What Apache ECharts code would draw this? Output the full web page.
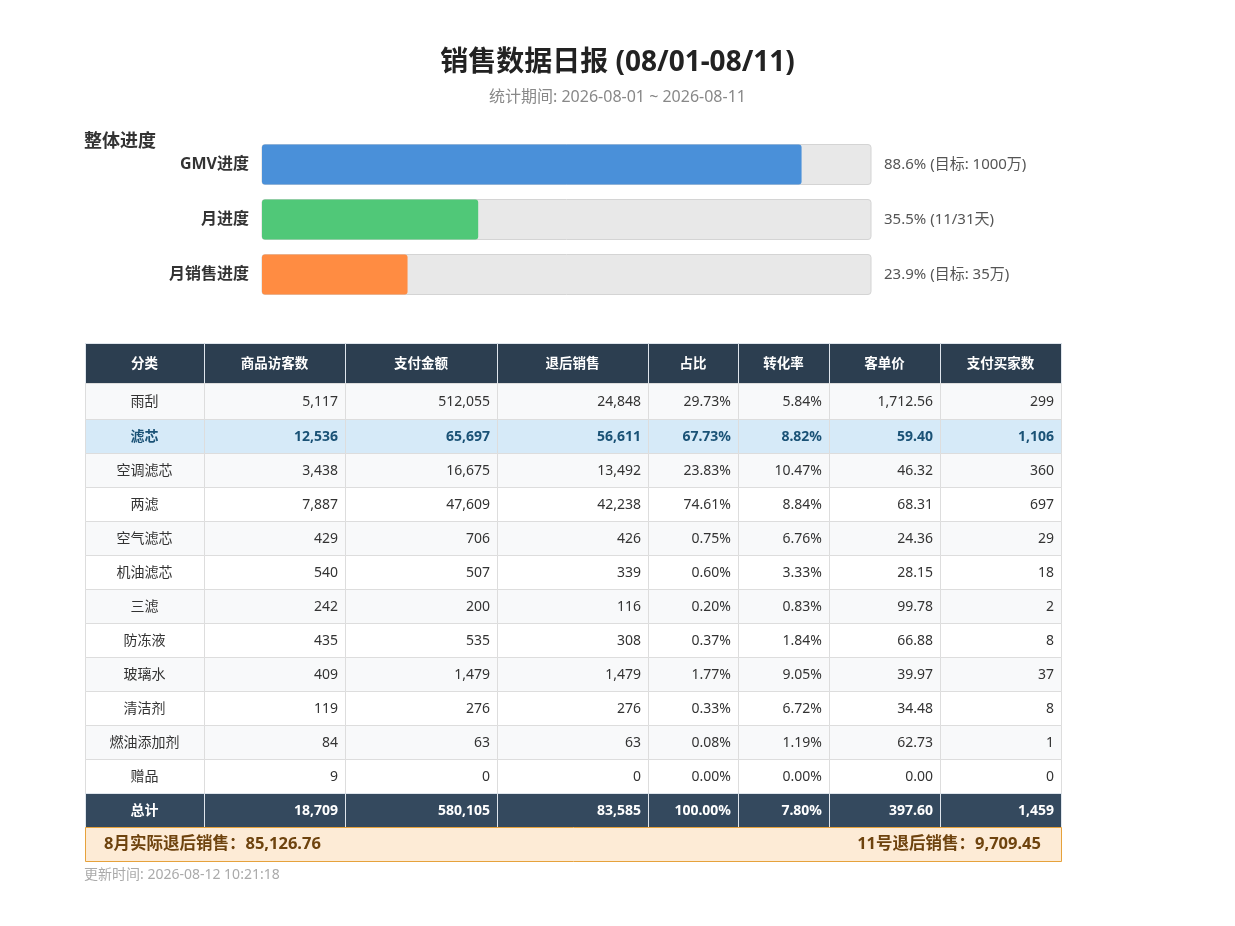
<!DOCTYPE html>
<html>
<head>
    <meta charset="UTF-8">
    <title>销售数据日报</title>
    <script src="https://cdn.jsdelivr.net/npm/echarts@6/dist/echarts.min.js"></script>
    <style>
        html, body { margin: 0; padding: 0; background: #ffffff; }
        #main { width: 1235px; height: 926px; }
    </style>
</head>
<body>
<div id="main"></div>
<script type="text/javascript">
    // ---- 进度数据 ----
    var progressNames = ['GMV进度', '月进度', '月销售进度'];
    var progressValues = [88.6, 35.5, 23.9];
    var progressNotes = ['88.6% (目标: 1000万)', '35.5% (11/31天)', '23.9% (目标: 35万)'];
    var progressColors = ['#4a90d9', '#50c878', '#ff8c42'];

    // ---- 表格数据 ----
    var headers = ['分类', '商品访客数', '支付金额', '退后销售', '占比', '转化率', '客单价', '支付买家数'];
    var categories = ['雨刮', '滤芯', '空调滤芯', '两滤', '空气滤芯', '机油滤芯', '三滤', '防冻液', '玻璃水', '清洁剂', '燃油添加剂', '赠品'];
    var visitors = [5117, 12536, 3438, 7887, 429, 540, 242, 435, 409, 119, 84, 9];
    var payAmount = [512055, 65697, 16675, 47609, 706, 507, 200, 535, 1479, 276, 63, 0];
    var netSales = [24848, 56611, 13492, 42238, 426, 339, 116, 308, 1479, 276, 63, 0];
    var shareRate = [29.73, 67.73, 23.83, 74.61, 0.75, 0.60, 0.20, 0.37, 1.77, 0.33, 0.08, 0.00];
    var convRate = [5.84, 8.82, 10.47, 8.84, 6.76, 3.33, 0.83, 1.84, 9.05, 6.72, 1.19, 0.00];
    var avgPrice = [1712.56, 59.40, 46.32, 68.31, 24.36, 28.15, 99.78, 66.88, 39.97, 34.48, 62.73, 0.00];
    var buyers = [299, 1106, 360, 697, 29, 18, 2, 8, 37, 8, 1, 0];
    var totalLabel = '总计';
    var totals = [18709, 580105, 83585, 100.00, 7.80, 397.60, 1459];
    var highlightRow = 1;
    var monthNetSales = 85126.76;
    var dayNetSales = 9709.45;
    var updateTime = '2026-08-12 10:21:18';

    // ---- 布局 (列宽 / 行高) ----
    var colEdges = [0, 119, 260, 412, 563, 653, 744, 855, 976];
    var rowEdges = [0, 40, 76, 110, 144, 178, 212, 246, 280, 314, 348, 382, 416, 450, 484, 518];
    var FONT = '"Noto Sans", "Noto Sans CJK SC", sans-serif';

    function fmtInt(v) { return v.toLocaleString('en-US'); }
    function fmtPct(v) { return v.toFixed(2) + '%'; }
    function fmtMoney(v) {
        return v.toLocaleString('en-US', {minimumFractionDigits: 2, maximumFractionDigits: 2});
    }
    var formatters = [null, fmtInt, fmtInt, fmtInt, fmtPct, fmtPct, fmtMoney, fmtInt];

    function bodyValue(i, c) {
        var cols = [categories, visitors, payAmount, netSales, shareRate, convRate, avgPrice, buyers];
        return c === 0 ? cols[0][i] : formatters[c](cols[c][i]);
    }

    // 单元格 [列, 行]
    var cells = [];
    for (var r = 0; r < categories.length + 2; r++) {
        for (var c = 0; c < headers.length; c++) {
            cells.push([c, r]);
        }
    }

    function cellText(c, r) {
        if (r === 0) return headers[c];
        if (r === categories.length + 1) return c === 0 ? totalLabel : formatters[c](totals[c - 1]);
        return bodyValue(r - 1, c);
    }

    function renderCell(params, api) {
        var c = api.value(0), r = api.value(1);
        var p0 = api.coord([colEdges[c], rowEdges[r]]);
        var p1 = api.coord([colEdges[c + 1], rowEdges[r + 1]]);
        var fill, stroke = '#dddddd', color = '#333333', weight = 'normal', size = 14;
        if (r === 0) {
            fill = '#2c3e50'; stroke = '#dfe5ec'; color = '#ffffff'; weight = 'bold'; size = 13.5;
        } else if (r === categories.length + 1) {
            fill = '#34495e'; stroke = '#dfe5ec'; color = '#ffffff'; weight = 'bold';
        } else if (r - 1 === highlightRow) {
            fill = '#d6eaf8'; color = '#1a5276'; weight = 'bold';
        } else {
            fill = (r - 1) % 2 === 0 ? '#f8f9fa' : '#ffffff';
        }
        var center = (r === 0 || c === 0);
        return {
            type: 'group',
            children: [{
                type: 'rect',
                shape: {x: Math.round(p0[0]) + 0.5, y: Math.round(p0[1]) + 0.5,
                    width: Math.round(p1[0] - p0[0]), height: Math.round(p1[1] - p0[1])},
                style: {fill: fill, stroke: stroke, lineWidth: 1}
            }, {
                type: 'text',
                style: {
                    x: center ? (p0[0] + p1[0]) / 2 : p1[0] - 7,
                    y: (p0[1] + p1[1]) / 2 + 1,
                    text: cellText(c, r),
                    align: center ? 'center' : 'right',
                    verticalAlign: 'middle',
                    fill: color,
                    fontSize: size,
                    fontWeight: weight,
                    fontFamily: FONT
                }
            }]
        };
    }

    function renderSummary(params, api) {
        var r = api.value(1);
        var p0 = api.coord([colEdges[0], rowEdges[r]]);
        var p1 = api.coord([colEdges[colEdges.length - 1], rowEdges[r + 1]]);
        var ty = (p0[1] + p1[1]) / 2;
        var txt = {fill: '#6e430e', fontSize: 16.5, fontWeight: 'bold', fontFamily: FONT, verticalAlign: 'middle'};
        return {
            type: 'group',
            children: [{
                type: 'rect',
                shape: {x: Math.round(p0[0]) + 0.5, y: Math.round(p0[1]) + 0.5,
                    width: Math.round(p1[0] - p0[0]), height: Math.round(p1[1] - p0[1])},
                style: {fill: '#fdebd6', stroke: '#e6a23c', lineWidth: 1}
            }, {
                type: 'text',
                style: echarts.util.extend({x: p0[0] + 19, y: ty, align: 'left',
                    text: '8月实际退后销售：' + fmtMoney(monthNetSales)}, txt)
            }, {
                type: 'text',
                style: echarts.util.extend({x: p1[0] - 20, y: ty, align: 'right',
                    text: '11号退后销售：' + fmtMoney(dayNetSales)}, txt)
            }]
        };
    }

    var myChart = echarts.init(document.getElementById('main'));

    var option = {
        backgroundColor: '#ffffff',
        animation: false,
        textStyle: {fontFamily: FONT},
        title: [
            {
                text: '销售数据日报 (08/01-08/11)', left: 'center', top: 49, padding: 0,
                textStyle: {fontSize: 28, fontWeight: 'bold', color: '#222222', fontFamily: FONT}
            },
            {
                text: '统计期间: 2026-08-01 ~ 2026-08-11', left: 'center', top: 89, padding: 0,
                textStyle: {fontSize: 16, fontWeight: 'normal', color: '#888888', fontFamily: FONT}
            },
            {
                text: '整体进度', left: 84, top: 133, padding: 0,
                textStyle: {fontSize: 18, fontWeight: 'bold', color: '#333333', fontFamily: FONT}
            },
            {
                text: '更新时间: ' + updateTime, left: 84, top: 868, padding: 0,
                textStyle: {fontSize: 14, fontWeight: 'normal', color: '#aaaaaa', fontFamily: FONT}
            }
        ],
        grid: [
            {left: 262, top: 137, width: 609, height: 165},
            {left: 85, top: 343, width: 976, height: 518}
        ],
        xAxis: [
            {gridIndex: 0, type: 'value', min: 0, max: 100, show: false},
            {gridIndex: 1, type: 'value', min: 0, max: 976, show: false}
        ],
        yAxis: [
            {
                gridIndex: 0, type: 'category', inverse: true, data: progressNames,
                axisLine: {show: false}, axisTick: {show: false},
                axisLabel: {fontSize: 16, fontWeight: 'bold', color: '#333333', margin: 13, fontFamily: FONT}
            },
            {
                gridIndex: 0, type: 'category', inverse: true, position: 'right', data: progressNotes,
                axisLine: {show: false}, axisTick: {show: false},
                axisLabel: {fontSize: 15, color: '#555555', margin: 13, fontFamily: FONT}
            },
            {gridIndex: 1, type: 'value', min: 0, max: 518, inverse: true, show: false}
        ],
        series: [
            {
                type: 'bar',
                xAxisIndex: 0,
                yAxisIndex: 0,
                barWidth: 40,
                showBackground: true,
                backgroundStyle: {color: '#e8e8e8', borderColor: '#d4d4d4', borderWidth: 1, borderRadius: 3},
                itemStyle: {borderRadius: 3},
                data: progressValues.map(function (v, i) {
                    return {value: v, itemStyle: {color: progressColors[i]}};
                })
            },
            {
                type: 'custom',
                xAxisIndex: 1,
                yAxisIndex: 2,
                renderItem: renderCell,
                data: cells
            },
            {
                type: 'custom',
                xAxisIndex: 1,
                yAxisIndex: 2,
                renderItem: renderSummary,
                data: [[0, categories.length + 2]]
            }
        ]
    };

    myChart.setOption(option);
</script>
</body>
</html>
